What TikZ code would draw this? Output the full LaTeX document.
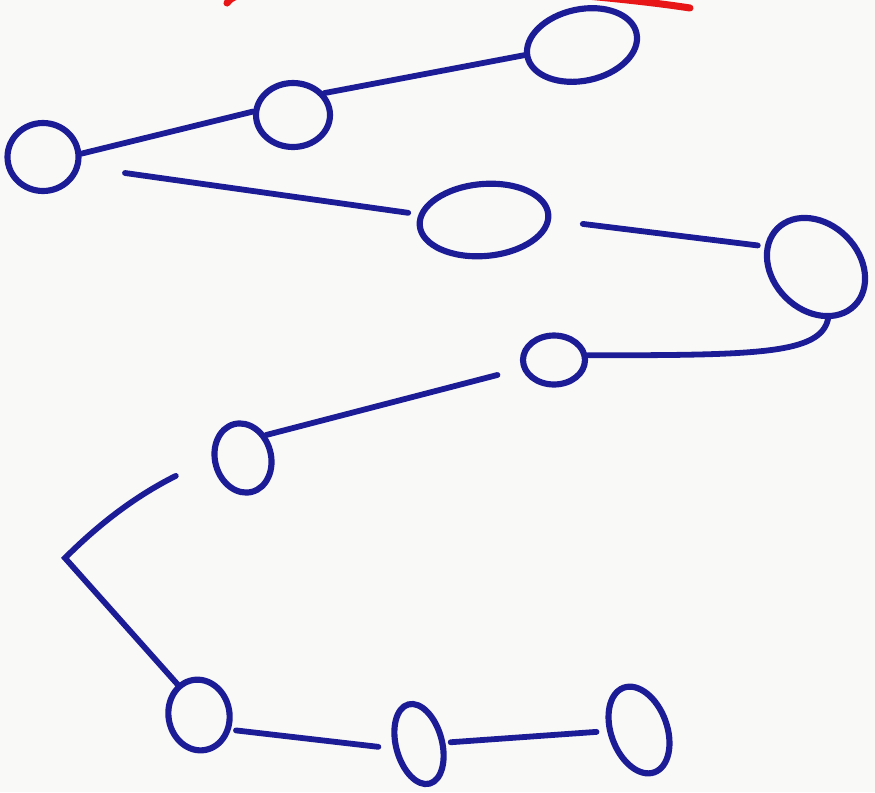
\documentclass[tikz,border=0pt]{standalone}
\usepackage{xcolor}
\usepackage{tikz}
\usetikzlibrary{shapes.geometric, calc}

\definecolor{inkblue}{RGB}{28,28,150}
\definecolor{inkred}{RGB}{232,22,22}
\definecolor{paper}{RGB}{249,249,247}

\begin{document}
\begin{tikzpicture}[x=0.02cm, y=-0.02cm,
	wire/.style={inkblue, line width=3.3pt, line cap=round},
	bead/.style={ellipse, draw=inkblue, line width=3.5pt, inner sep=0pt}]
	\fill[paper] (0,0) rectangle (875,792);
	\useasboundingbox (0,0) rectangle (875,792);

	\begin{scope}
		\clip (0,0) rectangle (875,792);
		\draw[inkred, line width=4pt, line cap=round] (227,3) .. controls (245,-30) and (560,-12) .. (690,8);
	\end{scope}

	\node[bead, minimum width=1.42cm, minimum height=1.36cm] (o1) at (43,157) {};
	\node[bead, minimum width=1.48cm, minimum height=1.28cm] (o2) at (293,115) {};
	\node[bead, minimum width=2.23cm, minimum height=1.43cm, rotate=12] (o3) at (582,45) {};
	\node[bead, minimum width=2.58cm, minimum height=1.44cm, rotate=5] (o4) at (484,220) {};
	\node[bead, minimum width=2.18cm, minimum height=1.72cm, rotate=-45] (o5) at (816,267) {};
	\node[bead, minimum width=1.24cm, minimum height=0.98cm] (o6) at (554,360) {};
	\node[bead, minimum width=1.12cm, minimum height=1.4cm, rotate=15] (o7) at (243,458) {};
	\node[bead, minimum width=1.22cm, minimum height=1.42cm, rotate=10] (o8) at (199,715) {};
	\node[bead, minimum width=0.92cm, minimum height=1.64cm, rotate=15] (o9) at (419,744) {};
	\node[bead, minimum width=1.12cm, minimum height=1.8cm, rotate=20] (o10) at (639,730) {};

	\coordinate (tail) at (125,173);
	\coordinate (kink) at (65,558);

	\draw[wire] (o1.5) -- (o2.175);
	\draw[wire] (o2.35) -- (o3.178);
	\draw[wire, shorten >=6pt] (tail) -- (o4.170);
	\draw[wire, shorten <=0.64cm, shorten >=4pt] (o4.-5) -- (o5.203);
	\draw[wire] (o5.-32) .. controls +(-8,35) and +(170,0) .. (o6.8);
	\draw[wire, shorten <=0.5cm] (o6.195) -- (o7.30);
	\draw[wire, shorten <=0.8cm] (o7.165) .. controls +(-80,40) and +(30,-30) .. (kink) -- (o8.115);
	\draw[wire, shorten <=3pt, shorten >=0.3cm] (o8.-35) -- (o9.175);
	\draw[wire, shorten <=3pt, shorten >=6pt] (o9.-12) -- (o10.162);
\end{tikzpicture}
\end{document}
